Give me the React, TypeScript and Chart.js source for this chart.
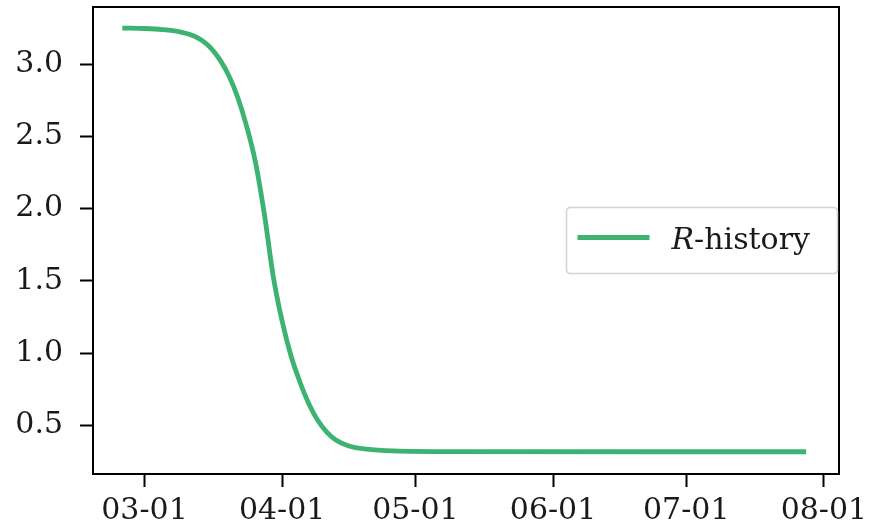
import React, { useEffect, useRef } from "react";
import { Chart, registerables } from "chart.js";

Chart.register(...registerables);

// ---- data ----
const dates = [
  "2020-02-25", "2020-03-01", "2020-03-05", "2020-03-09", "2020-03-12",
  "2020-03-14", "2020-03-16", "2020-03-18", "2020-03-20", "2020-03-22",
  "2020-03-24", "2020-03-26", "2020-03-28", "2020-03-30", "2020-04-01",
  "2020-04-03", "2020-04-05", "2020-04-07", "2020-04-09", "2020-04-11",
  "2020-04-13", "2020-04-16", "2020-04-20", "2020-04-26", "2020-05-10",
  "2020-07-28",
];
const rHistory = [
  3.25, 3.247, 3.24, 3.224, 3.197,
  3.163, 3.11, 3.03, 2.92, 2.77,
  2.57, 2.32, 1.96, 1.53, 1.22,
  0.98, 0.8, 0.65, 0.535, 0.455,
  0.4, 0.357, 0.335, 0.323, 0.318,
  0.317,
];
const xTickDates = ["2020-03-01", "2020-04-01", "2020-05-01", "2020-06-01", "2020-07-01", "2020-08-01"];
const yTickValues = [0.5, 1.0, 1.5, 2.0, 2.5, 3.0];
const seriesItalic = "R";
const seriesRest = "-history";

const BASE = Date.UTC(2020, 2, 1);
const DAY = 86400000;
const toDay = (s: string) => {
  const [y, m, d] = s.split("-").map(Number);
  return (Date.UTC(y, m - 1, d) - BASE) / DAY;
};
const fmtDay = (v: number) => {
  const dt = new Date(BASE + Math.round(v) * DAY);
  const mm = String(dt.getUTCMonth() + 1).padStart(2, "0");
  const dd = String(dt.getUTCDate()).padStart(2, "0");
  return `${mm}-${dd}`;
};

const FONT = "'DejaVu Serif', serif";
const LINE_COLOR = "#3cb371";

const framePlugin = {
  id: "frameAndLegend",
  afterDraw(chart: any) {
    const { ctx, chartArea } = chart;
    const { left, right, top, bottom } = chartArea;
    ctx.save();
    // spines
    ctx.strokeStyle = "#000";
    ctx.lineWidth = 2;
    ctx.strokeRect(left, top, right - left, bottom - top);

    // legend (center right)
    const boxW = 271;
    const boxH = 66;
    const bx = right - 1.5 - boxW;
    const cy = (top + bottom) / 2;
    const by = cy - boxH / 2;
    const r = 4;
    ctx.beginPath();
    ctx.moveTo(bx + r, by);
    ctx.lineTo(bx + boxW - r, by);
    ctx.quadraticCurveTo(bx + boxW, by, bx + boxW, by + r);
    ctx.lineTo(bx + boxW, by + boxH - r);
    ctx.quadraticCurveTo(bx + boxW, by + boxH, bx + boxW - r, by + boxH);
    ctx.lineTo(bx + r, by + boxH);
    ctx.quadraticCurveTo(bx, by + boxH, bx, by + boxH - r);
    ctx.lineTo(bx, by + r);
    ctx.quadraticCurveTo(bx, by, bx + r, by);
    ctx.closePath();
    ctx.fillStyle = "rgba(255,255,255,0.8)";
    ctx.fill();
    ctx.strokeStyle = "#d4d4d4";
    ctx.lineWidth = 1.5;
    ctx.stroke();

    const ds = chart.data.datasets[0];
    ctx.strokeStyle = ds.borderColor;
    ctx.lineWidth = ds.borderWidth;
    ctx.lineCap = "butt";
    ctx.beginPath();
    ctx.moveTo(bx + 11, cy - 3);
    ctx.lineTo(bx + 83, cy - 3);
    ctx.stroke();

    ctx.fillStyle = "#1a1a1a";
    ctx.textBaseline = "alphabetic";
    ctx.textAlign = "left";
    const tx = bx + 105;
    const ty = cy + 8;
    ctx.font = `italic 30px ${FONT}`;
    ctx.fillText(seriesItalic, tx, ty);
    const w = ctx.measureText(seriesItalic).width;
    ctx.font = `30px ${FONT}`;
    ctx.fillText(seriesRest, tx + w, ty);
    ctx.restore();
  },
};

export default function App() {
  const ref = useRef<HTMLCanvasElement | null>(null);

  useEffect(() => {
    if (!ref.current) return;
    const points = dates.map((d, i) => ({ x: toDay(d), y: rHistory[i] }));
    const xTicks = xTickDates.map(toDay);
    const chart = new Chart(ref.current, {
      type: "line",
      data: {
        datasets: [
          {
            label: seriesItalic + seriesRest,
            data: points,
            borderColor: LINE_COLOR,
            backgroundColor: LINE_COLOR,
            borderWidth: 4.8,
            pointRadius: 0,
            cubicInterpolationMode: "monotone",
            fill: false,
          },
        ],
      },
      options: {
        animation: false,
        responsive: false,
        maintainAspectRatio: false,
        layout: { padding: { top: 7, right: 32, left: 0, bottom: 0 } },
        plugins: {
          legend: { display: false },
          tooltip: { enabled: false },
        },
        scales: {
          x: {
            type: "linear",
            min: -11.6,
            max: 156.4,
            afterBuildTicks: (scale: any) => {
              scale.ticks = xTicks.map((v) => ({ value: v }));
            },
            afterFit: (scale: any) => {
              scale.height = 56;
              scale.paddingLeft = 0;
              scale.paddingRight = 0;
            },
            grid: {
              display: true,
              drawOnChartArea: false,
              drawTicks: true,
              tickLength: 13,
              tickWidth: 2,
              tickColor: "#000",
            },
            border: { display: false },
            ticks: {
              autoSkip: false,
              maxRotation: 0,
              minRotation: 0,
              padding: 6,
              color: "#1a1a1a",
              font: { family: FONT, size: 30 },
              callback: (v: any) => fmtDay(Number(v)),
            },
          },
          y: {
            type: "linear",
            min: 0.163,
            max: 3.396,
            afterBuildTicks: (scale: any) => {
              scale.ticks = yTickValues.map((v) => ({ value: v }));
            },
            afterFit: (scale: any) => {
              scale.width = 93;
              scale.paddingTop = 0;
              scale.paddingBottom = 0;
            },
            grid: {
              display: true,
              drawOnChartArea: false,
              drawTicks: true,
              tickLength: 13,
              tickWidth: 2,
              tickColor: "#000",
            },
            border: { display: false },
            ticks: {
              padding: 17,
              color: "#1a1a1a",
              font: { family: FONT, size: 30 },
              callback: (v: any) => Number(v).toFixed(1),
            },
          },
        },
      },
      plugins: [framePlugin],
    } as any);
    return () => chart.destroy();
  }, []);

  return (
    <div style={{ position: "fixed", left: 0, top: 0, width: 871, height: 530, background: "#fff" }}>
      <canvas ref={ref} width={871} height={530} style={{ display: "block", width: 871, height: 530 }} />
    </div>
  );
}
